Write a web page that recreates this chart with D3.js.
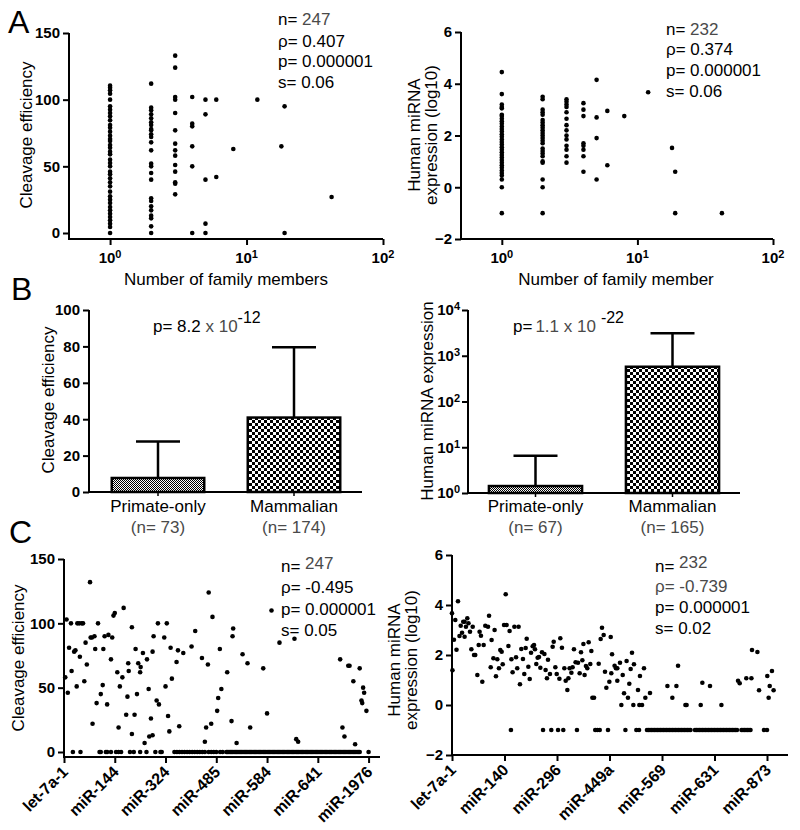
<!DOCTYPE html>
<html>
<head>
<meta charset="utf-8">
<script src="https://cdn.jsdelivr.net/npm/d3@7"></script>
<style>
  body { margin: 0; background: #fff; }
  svg { font-family: Arial, "Liberation Sans", sans-serif; }
</style>
</head>
<body>
<div id="chart"></div>
<script>
// ---- data ----

// panel A: family size vs cleavage / expression
const familySizes = [1, 2, 3, 4, 5, 6, 8, 12, 18, 19, 42];
const aCleavage = [
  [0, 4.5, 7, 9.5, 12, 14.5, 17, 19.5, 22.5, 25, 27.5, 31, 35, 38, 41, 44, 46, 50, 52.5, 55, 59, 61, 64, 66, 69, 70.5, 73, 76, 79, 81, 84.5, 87.5, 90, 92.5, 95, 100, 104.5, 107, 109, 110.5],
  [112, 94, 92, 89, 86, 83, 81, 78, 77, 74, 72, 68, 62, 52, 50, 45, 40, 26, 24, 20, 17, 13, 11, 5, 0],
  [133, 124, 102, 100, 90, 77, 67, 62, 58, 51, 46, 38, 37, 29],
  [102, 82, 80, 65, 50, 0],
  [100, 89, 40, 7, 0],
  [100, 42],
  [63],
  [100],
  [65],
  [95, 0],
  [27]
];
const aExpression = [
  [4.45, 3.6, 3.2, 3.1, 3.05, 2.8, 2.75, 2.65, 2.55, 2.45, 2.35, 2.25, 2.15, 2.05, 1.95, 1.85, 1.75, 1.65, 1.55, 1.45, 1.35, 1.25, 1.15, 1.05, 0.95, 0.85, 0.75, 0.65, 0.55, 0.45, 0.3, 0, -1],
  [3.5, 3.4, 3.0, 2.9, 2.8, 2.6, 2.5, 2.4, 2.3, 2.2, 2.1, 2.0, 1.9, 1.8, 1.7, 1.5, 1.4, 1.3, 1.2, 1.0, 0.95, 0.3, 0, -1],
  [3.4, 3.3, 3.2, 3.1, 2.9, 2.65, 2.4, 2.2, 2.0, 1.85, 1.6, 1.45, 1.2, 0.95],
  [3.25, 3.0, 2.75, 1.7, 1.6, 1.45, 1.2, 0.6],
  [4.15, 2.7, 1.9, 0.3],
  [2.95, 0.85],
  [2.75],
  [3.67],
  [1.52],
  [0.6, -1],
  [-1]
];

// panel B: primate-only vs mammalian (mean, mean + SD)
const groups = ['Primate-only', 'Mammalian'];
const bCleavageN = [73, 174];
const bCleavageMean = [7.7, 40.9];
const bCleavageUpper = [27.8, 79.5];
const bExprN = [67, 165];
const bExprMean = [1.42, 575];
const bExprUpper = [6.5, 3090];

// panel C: per miRNA (ordered index, value)
const cLeftTicks = [0, 40, 80, 120, 160, 200, 240];
const cLeftTickNames = ['let-7a-1', 'miR-144', 'miR-324', 'miR-485', 'miR-584', 'miR-641', 'miR-1976'];
const cLeftPoints = [
  [1,58],[2,103],[3,46],[4,81],[5.5,100],[6,63],[8,78],[9,79],[10,51],[10.5,100],[12,100],[12.5,74],[14,100],[15,100],
  [16,55],[17,85],[18,68],[20.5,132],[21,89],[22,89],[22.5,22],[24,90],[24.6,80],[25.7,38],[26.8,100],[29,45],[30.5,52],
  [31,80],[32,90],[34,37],[35,91],[37,72],[38,89],[39,106],[40,108],[42,62],[43,19],[44,51],[46,58],[47,112],[49,29],
  [50,43],[50.6,69],[51,63],[53.5,97],[53.5,14],[55.6,29],[56.4,80],[57.5,45],[58.5,69],[60,62],[60.4,66],[62.2,77],
  [63.5,7],[65.4,72],[66.7,49],[67.2,12],[68.5,26],[69.8,13],[69.8,78],[70.6,90],[73,40],[74,100],[74.8,37],[79,89],
  [80,51],[81,100],[82,28],[83,16],[84,81],[85,57],[88.7,70],[89.8,79],[90.8,20],[94,77],[100.5,82],[103.4,94],
  [108.7,73],[111,8],[112,19],[113.4,68],[114,124],[116,22],[117,105],[120.7,32],[121.5,42],[122.8,80],[124,49],
  [128.6,62],[132,24],[132.8,90],[133.3,96],[136,7],[140.7,76],[144.6,69],[146.7,19],[157,65],[160,30],[163.5,110],
  [169.8,85],[181.6,88],[183,10],[184.5,8],[217.6,72],[219.4,19],[221,12],[224,67],[225,67],[228,55],[229.4,6],
  [233,65],[234.4,40],[235,38],[235.7,50],[236.5,46],[238.3,32]
];
const cLeftZeroIdx = [
  7, 13, 28, 29, 33, 34, 37, 41, 43, 45, 52, 55, 60, 65, 72, 76, 77, 87, 89, 91, 93, 95, 97, 99, 101, 103, 105,
  107, 109, 111, 114, 116, 118, 120, 123, 125,
  128, 129, 130, 131, 132, 133, 134, 135, 136, 137, 138, 139, 140, 141, 142, 143, 144, 145, 146, 147, 148, 149,
  150, 151, 152, 153, 154, 155, 156, 157, 158, 159, 160, 161, 162, 163, 164, 165, 166, 167, 168, 169, 170, 171,
  172, 173, 174, 175, 176, 177, 178, 179, 180, 181, 182, 183, 184, 185, 186, 187, 188, 189, 190, 191, 192, 193,
  194, 195, 196, 197, 198, 199, 200, 201, 202, 203, 204, 205, 206, 207, 208, 209, 210, 211, 212, 213, 214, 215,
  216, 217, 218, 219, 220, 221, 222, 223, 224, 225, 226, 227, 228, 229, 230, 231, 232, 233, 240
];

const cRightTicks = [0, 35, 70, 105, 140, 175, 210];
const cRightTickNames = ['let-7a-1', 'miR-140', 'miR-296', 'miR-449a', 'miR-569', 'miR-631', 'miR-873'];
const cRightPoints = [
  [0,3.67],[0.3,1.39],[1.3,2.61],[2.2,3.4],[3,2.21],[4,4.15],[5,2.76],[5.8,3.17],[6.7,2.89],[7.5,3.33],[8.4,3.33],
  [8.4,2.73],[9.3,3.13],[10.2,3.47],[11,3.27],[12,2.93],[12.9,2.23],[13.8,3.13],[14.7,2.0],[15.5,2.0],[16.9,1.2],
  [17.8,2.4],[18.4,2.93],[19.3,2.77],[20.2,0.93],[21.1,2.4],[22.2,3.17],[24,3.13],[24.7,3.57],[25.8,1.51],[26.4,2.6],
  [27.6,1.87],[28.4,3.0],[29.3,1.15],[30.2,1.83],[31.3,1.47],[32.2,2.2],[33.1,2.13],[33.8,1.63],[34.7,3.2],[35.8,4.43],
  [36.4,3.2],[37.6,2.36],[38.4,2.96],[39.6,1.83],[40.4,1.31],[41.6,3.13],[42.7,1.91],[43.5,1.47],[44.4,3.13],[45.3,0.83],
  [46.2,2.24],[47.3,1.84],[48.2,1.24],[49.1,2.28],[49.8,2.65],[50.9,1.53],[51.8,1.04],[52.7,2.09],[53.8,2.35],[54.7,2.4],
  [55.3,2.23],[56.2,1.64],[57.1,1.89],[58,1.92],[58.9,1.49],[60,2.11],[61.6,2.04],[62.4,1.4],[63.3,1.07],[64,1.81],
  [65.3,1.24],[67.1,2.33],[67.8,2.53],[68.9,1.51],[69.8,1.24],[71.6,1.05],[72.2,2.67],[73.3,2.29],[74.9,1.47],[75.8,0.97],
  [76.9,0.6],[77.6,1.07],[78.4,1.47],[79.6,1.29],[80.4,1.51],[81.3,2.23],[82.4,1.71],[84,1.69],[85.1,1.27],[86,2.11],
  [86.9,1.79],[87.6,2.44],[88.4,1.2],[89.3,1.56],[90.2,1.47],[91.1,2.51],[92.2,1.64],[92.9,2.16],[93.6,0.29],[94.7,0.29],
  [97.8,1.65],[99.1,2.64],[100,3.09],[101.1,2.8],[102,1.33],[102.9,0.69],[104.9,0.93],[105.8,2.72],[106.2,1.27],
  [106.7,2.03],[108.4,1.57],[109.3,1.47],[110.2,1.47],[110.2,0.97],[112,1.69],[113.8,1.2],[114.7,0.47],[116.4,1.76],
  [117.3,0.29],[118.2,0.85],[119.1,1.44],[120,2.09],[121.3,1.63],[124,0.6],[125.3,1.16],[128,1.47],[128.9,0.29],
  [132,0.48],[143.6,0.76],[146.9,0.29],[149.6,0.76],[150.7,1.57],[166.9,0.89],[172,0.76],[190.7,0.97],[191.8,0.87],
  [196.2,1.07],[199.6,1.07],[200,2.2],[203.6,2.12],[204.7,0.59],[210.2,1.16],[211.1,0.29],[211.8,0.76],[213.3,1.36],
  [214.4,0.59],
  [112.9,0],[120.9,0],[124.9,0],[126.7,0],[155.6,0],[156.4,0],[165.8,0],[179.6,0]
];
const cRightFloorIdx = [
  39.3, 60.7, 66.2, 70.7, 74.2, 83.3, 95.5, 96.9, 98.5, 104, 115.6, 122.9, 124.7,
  130, 131, 132, 133, 134, 135, 136, 137, 138, 139, 140, 141, 142, 143, 144, 145, 146, 147, 148, 149, 150, 151,
  152, 153, 154, 155, 156, 157, 158, 159, 162, 163, 164, 165, 166, 167, 168, 169, 170, 171, 172, 173, 174, 175,
  176, 177, 178, 179, 180, 181, 182, 183, 184, 185, 186, 187, 188, 189, 190, 193, 194, 195, 196, 197, 198, 199,
  208, 210
];

// ---- drawing ----
const svg = d3.select('#chart').append('svg')
  .attr('width', 800)
  .attr('height', 830);

const defs = svg.append('defs');
// fine checker for primate-only bars
const fine = defs.append('pattern').attr('id', 'fine')
  .attr('width', 2).attr('height', 2).attr('patternUnits', 'userSpaceOnUse');
fine.append('rect').attr('width', 2).attr('height', 2).attr('fill', '#fff');
fine.append('rect').attr('width', 1).attr('height', 1).attr('fill', '#000');
fine.append('rect').attr('x', 1).attr('y', 1).attr('width', 1).attr('height', 1).attr('fill', '#000');
// coarse checker for mammalian bars
const coarse = defs.append('pattern').attr('id', 'coarse')
  .attr('width', 6).attr('height', 6).attr('patternUnits', 'userSpaceOnUse');
coarse.append('rect').attr('width', 6).attr('height', 6).attr('fill', '#fff');
coarse.append('rect').attr('width', 3).attr('height', 3).attr('fill', '#000');
coarse.append('rect').attr('x', 3).attr('y', 3).attr('width', 3).attr('height', 3).attr('fill', '#000');

const GRAY = '#4a4a4a';
const TICK_FONT = 15;

function frame(x0, x1, yTop, yBot) {
  svg.append('path')
    .attr('d', `M${x0},${yTop}V${yBot}H${x1}`)
    .attr('fill', 'none').attr('stroke', '#000').attr('stroke-width', 2);
}

function yAxis(scale, x, ticks, fmt) {
  const g = svg.append('g').attr('transform', `translate(${x},0)`)
    .call(d3.axisLeft(scale).tickValues(ticks).tickSize(6).tickPadding(3).tickFormat(fmt || d3.format('d')));
  g.select('.domain').remove();
  g.selectAll('.tick line').attr('stroke-width', 2);
  g.selectAll('.tick text').attr('font-size', TICK_FONT).attr('font-weight', 'bold').attr('fill', '#000')
    .attr('font-family', 'Arial, "Liberation Sans", sans-serif');
  return g;
}

function xTicks(scale, y, ticks, size) {
  const g = svg.append('g').attr('transform', `translate(0,${y})`)
    .call(d3.axisBottom(scale).tickValues(ticks).tickSize(size).tickFormat(''));
  g.select('.domain').remove();
  g.selectAll('.tick line').attr('stroke-width', 2);
  return g;
}

// "10" with superscript exponent
function powText(sel, exp) {
  sel.append('tspan').text('10');
  sel.append('tspan').attr('font-size', 11).attr('dy', -5).text(exp);
}

function stats(x, baselines, lines) {
  lines.forEach((ln, i) => {
    const t = svg.append('text').attr('x', x).attr('y', baselines[i]).attr('font-size', 17);
    t.append('tspan').attr('fill', ln[2] ? GRAY : '#000').text(ln[0]);
    if (ln[1]) t.append('tspan').attr('fill', GRAY).attr('dy', ln[3] || 0).text(ln[1]);
  });
}

function yTitle(x, y, lines) {
  lines.forEach((s, i) => {
    svg.append('text')
      .attr('transform', `translate(${x + i * 17},${y}) rotate(-90)`)
      .attr('text-anchor', 'middle').attr('font-size', 17).text(s);
  });
}

function dots(data, xs, ys) {
  svg.append('g').selectAll('circle').data(data).enter().append('circle')
    .attr('cx', d => xs(d[0])).attr('cy', d => ys(d[1])).attr('r', 2.3).attr('fill', '#000');
}

function letter(s, x, y) {
  svg.append('text').attr('x', x).attr('y', y).attr('font-size', 32).text(s);
}

function logXLabels(x) {
  [[1, '0'], [10, '1'], [100, '2']].forEach(([v, e]) => {
    const t = svg.append('text').attr('x', x(v)).attr('y', 263).attr('text-anchor', 'middle')
      .attr('font-size', TICK_FONT).attr('font-weight', 'bold');
    powText(t, e);
  });
}

// ---------- Panel A ----------
const aPairsL = familySizes.flatMap((f, i) => aCleavage[i].map(v => [f, v]));
const aPairsR = familySizes.flatMap((f, i) => aExpression[i].map(v => [f, v]));

// A left
{
  const x = d3.scaleLog().domain([0.5, 100]).range([69, 383]);
  const y = d3.scaleLinear().domain([0, 150]).range([233, 33]);
  frame(69, 383, 33, 239);
  yAxis(y, 69, [0, 50, 100, 150]);
  xTicks(x, 239, [1, 10, 100], 6);
  logXLabels(x);
  dots(aPairsL, x, y);
  svg.append('text').attr('x', 226).attr('y', 285).attr('text-anchor', 'middle').attr('font-size', 17)
    .text('Number of family members');
  yTitle(32, 135, ['Cleavage efficiency']);
  stats(278, [25, 47, 67, 88], [['n= ', '247'], ['ρ= 0.407'], ['p= 0.000001'], ['s= 0.06']]);
  letter('A', 8, 33);
}

// A right
{
  const x = d3.scaleLog().domain([0.5, 100]).range([461, 773]);
  const y = d3.scaleLinear().domain([-2, 6]).range([239, 32]);
  frame(461, 773, 32, 239);
  yAxis(y, 461, [-2, 0, 2, 4, 6]);
  xTicks(x, 239, [1, 10, 100], 6);
  logXLabels(x);
  dots(aPairsR, x, y);
  svg.append('text').attr('x', 616).attr('y', 285).attr('text-anchor', 'middle').attr('font-size', 17)
    .text('Number of family member');
  yTitle(420, 135, ['Human miRNA', 'expression (log10)']);
  stats(666, [35, 55, 76, 97], [['n= ', '232'], ['ρ= 0.374'], ['p= 0.000001'], ['s= 0.06']]);
}

// ---------- Panel B ----------
function bars(x, y, means, uppers, fills) {
  const cx = d => x(d) + x.bandwidth() / 2;
  groups.forEach((gname, i) => {
    svg.append('line').attr('x1', cx(gname)).attr('x2', cx(gname))
      .attr('y1', y(means[i])).attr('y2', y(uppers[i])).attr('stroke', '#000').attr('stroke-width', 2.5);
    svg.append('line').attr('x1', cx(gname) - 22).attr('x2', cx(gname) + 22)
      .attr('y1', y(uppers[i])).attr('y2', y(uppers[i])).attr('stroke', '#000').attr('stroke-width', 2.5);
  });
  svg.append('g').selectAll('rect').data(groups).enter().append('rect')
    .attr('x', d => x(d)).attr('width', x.bandwidth())
    .attr('y', (d, i) => y(means[i])).attr('height', (d, i) => y.range()[0] - y(means[i]))
    .attr('fill', (d, i) => `url(#${fills[i]})`).attr('stroke', '#000').attr('stroke-width', 2.5);
}

function groupLabels(x, ns) {
  groups.forEach((gname, i) => {
    const cx = x(gname) + x.bandwidth() / 2;
    svg.append('text').attr('x', cx).attr('y', 512).attr('text-anchor', 'middle').attr('font-size', 17).text(gname);
    svg.append('text').attr('x', cx).attr('y', 533).attr('text-anchor', 'middle').attr('font-size', 17)
      .attr('fill', GRAY).text(`(n= ${ns[i]})`);
  });
}

function barTicks(x, y0) {
  svg.append('g').selectAll('line').data(groups).enter().append('line')
    .attr('x1', d => x(d) + x.bandwidth() / 2).attr('x2', d => x(d) + x.bandwidth() / 2)
    .attr('y1', y0).attr('y2', y0 + 4).attr('stroke', '#000').attr('stroke-width', 1.5);
}

// B left
{
  const x = d3.scaleBand().domain(groups).range([90, 362]).paddingInner(0.32).paddingOuter(0.16);
  const y = d3.scaleLinear().domain([0, 100]).range([492, 310]);
  frame(89, 362, 310, 492);
  yAxis(y, 89, [0, 20, 40, 60, 80, 100]);
  bars(x, y, bCleavageMean, bCleavageUpper, ['fine', 'coarse']);
  barTicks(x, 492);
  groupLabels(x, bCleavageN);
  yTitle(54, 400, ['Cleavage efficiency']);
  const t = svg.append('text').attr('x', 153).attr('y', 332).attr('font-size', 17);
  t.append('tspan').text('p= 8.2 ');
  t.append('tspan').attr('fill', GRAY).text('x 10');
  t.append('tspan').attr('dy', -9).attr('font-size', 16).text('-12');
  letter('B', 11, 300);
}

// B right
{
  const x = d3.scaleBand().domain(groups).range([467, 741]).paddingInner(0.32).paddingOuter(0.16);
  const y = d3.scaleLog().domain([1, 1e4]).range([493, 310]);
  frame(468, 740, 310, 493);
  const g = yAxis(y, 468, [1, 10, 100, 1000, 10000], () => '');
  g.selectAll('.tick').each(function (d) {
    const t = d3.select(this).append('text').attr('x', -8).attr('dy', '0.32em')
      .attr('text-anchor', 'end').attr('font-size', TICK_FONT).attr('font-weight', 'bold').attr('fill', '#000');
    powText(t, String(Math.round(Math.log10(d))));
  });
  bars(x, y, bExprMean, bExprUpper, ['fine', 'coarse']);
  barTicks(x, 493);
  groupLabels(x, bExprN);
  yTitle(433, 401, ['Human miRNA expression']);
  const t = svg.append('text').attr('x', 513).attr('y', 332).attr('font-size', 17);
  t.append('tspan').text('p=');
  t.append('tspan').attr('dx', 3).attr('fill', GRAY).text('1.1 x 10');
  t.append('tspan').attr('dx', 5).attr('dy', -9).attr('font-size', 16).text('-22');
}

// ---------- Panel C ----------
function rotatedTicks(x, y, ticks, names) {
  svg.append('g').selectAll('text').data(ticks).enter().append('text')
    .attr('transform', d => `translate(${x(d) + 5},${y}) rotate(-45)`)
    .attr('text-anchor', 'end').attr('font-size', 16).attr('font-weight', 'bold')
    .text((d, i) => names[i]);
}

// C left
{
  const x = d3.scaleLinear().domain([0, 249]).range([64, 380]);
  const y = d3.scaleLinear().domain([0, 150]).range([752, 559]);
  frame(64, 380, 559, 757);
  yAxis(y, 64, [0, 50, 100, 150]);
  xTicks(x, 757, cLeftTicks, 6);
  rotatedTicks(x, 773, cLeftTicks, cLeftTickNames);
  dots(cLeftPoints.concat(cLeftZeroIdx.map(i => [i, 0])), x, y);
  yTitle(24, 658, ['Cleavage efficiency']);
  stats(281, [572, 593, 615, 636], [['n= ', '247', false, -3], ['ρ= -0.495'], ['p= 0.000001'], ['s= 0.05']]);
  letter('C', 9, 543);
}

// C right
{
  const x = d3.scaleLinear().domain([0, 224]).range([452, 788]);
  const y = d3.scaleLinear().domain([-2, 6]).range([755, 555]);
  frame(452, 788, 555, 755);
  yAxis(y, 452, [-2, 0, 2, 4, 6]);
  xTicks(x, 755, cRightTicks, 6);
  rotatedTicks(x, 771, cRightTicks, cRightTickNames);
  dots(cRightPoints.concat(cRightFloorIdx.map(i => [i, -1])), x, y);
  yTitle(400, 660, ['Human miRNA', 'expression (log10)']);
  stats(655, [572, 592, 613, 634], [['n= ', '232', false, -4], ['ρ= -0.739', '', true], ['p= 0.000001'], ['s= 0.02']]);
}
</script>
</body>
</html>
